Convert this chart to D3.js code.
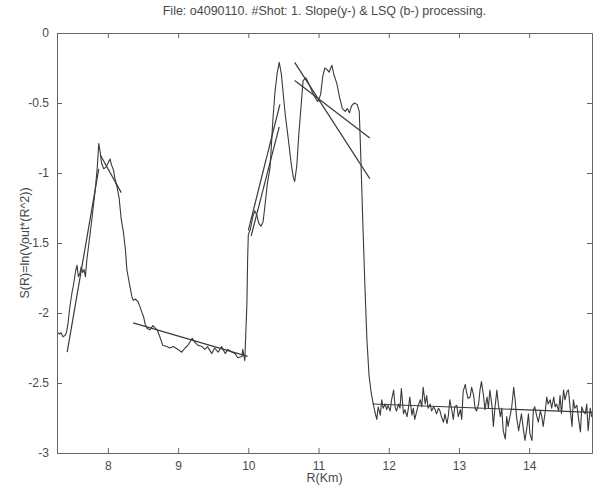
<!DOCTYPE html>
<html>
<head>
<meta charset="utf-8">
<script src="https://cdn.jsdelivr.net/npm/d3@7"></script>
<style>
  html, body { margin: 0; padding: 0; background: #ffffff; }
  svg { display: block; }
  text { font-family: "Liberation Sans", Arial, sans-serif; fill: #4a4a4a; }
</style>
</head>
<body>
<svg id="chart" width="593" height="486"></svg>
<script>
// ---------- data ----------
const titleText = "File: o4090110. #Shot: 1. Slope(y-) & LSQ (b-) processing.";
const xLabel = "R(Km)";
const yLabel = "S(R)=ln(Vout*(R^2))";
const xTicks = [8, 9, 10, 11, 12, 13, 14];
const yTicks = [0, -0.5, -1, -1.5, -2, -2.5, -3];
const yTickLabels = ["0", "-0.5", "-1", "-1.5", "-2", "-2.5", "-3"];

// signal: first aerosol layer (R in km, S)
const layer1R = [7.28,7.31,7.33,7.36,7.39,7.41,7.43,7.46,7.49,7.51,7.54,7.56,7.58,7.60,7.62,7.64,7.66,7.68,7.70,7.73,7.76,7.79,7.82,7.85,7.87,7.89,7.91,7.94,7.97,8.00,8.03,8.05,8.08,8.10,8.13,8.16,8.19,8.22,8.25,8.27,8.31,8.34,8.36,8.39,8.43,8.46,8.48,8.51,8.53,8.56,8.60];
const layer1S = [-2.14,-2.15,-2.14,-2.17,-2.16,-2.14,-2.08,-1.95,-1.85,-1.80,-1.70,-1.66,-1.74,-1.72,-1.67,-1.71,-1.69,-1.74,-1.62,-1.50,-1.38,-1.25,-1.12,-0.95,-0.79,-0.85,-0.93,-0.97,-0.96,-0.93,-0.90,-0.94,-0.98,-1.04,-1.10,-1.18,-1.33,-1.42,-1.55,-1.69,-1.80,-1.88,-1.91,-1.90,-1.92,-1.96,-1.99,-2.03,-2.08,-2.11,-2.12];

// signal: gap between layers
const gapR = [8.64,8.70,8.74,8.78,8.84,8.88,8.93,9.00,9.05,9.10,9.14,9.20,9.24,9.28,9.34,9.38,9.42,9.48,9.52,9.57,9.62,9.67,9.71,9.77,9.81,9.85,9.91,9.92,9.95,9.98,9.99];
const gapS = [-2.09,-2.12,-2.17,-2.23,-2.24,-2.25,-2.24,-2.26,-2.28,-2.25,-2.23,-2.18,-2.21,-2.23,-2.24,-2.26,-2.24,-2.29,-2.25,-2.28,-2.24,-2.29,-2.26,-2.28,-2.29,-2.32,-2.31,-2.26,-2.34,-1.93,-1.62];

// signal: second (cloud) layer
const layer2R = [10.00,10.03,10.06,10.09,10.12,10.15,10.18,10.21,10.24,10.27,10.31,10.35,10.38,10.41,10.44,10.47,10.50,10.53,10.57,10.61,10.64,10.66,10.69,10.72,10.75,10.78,10.82,10.86,10.91,10.95,10.99,11.03,11.06,11.09,11.12,11.15,11.19,11.22,11.26,11.30,11.34,11.38,11.41,11.44,11.47,11.51,11.55,11.58,11.60,11.63,11.66,11.69,11.72,11.75];
const layer2S = [-1.44,-1.40,-1.32,-1.27,-1.30,-1.36,-1.38,-1.35,-1.22,-1.08,-0.96,-0.62,-0.42,-0.29,-0.21,-0.29,-0.45,-0.60,-0.76,-0.93,-1.03,-1.06,-0.95,-0.72,-0.53,-0.34,-0.32,-0.36,-0.42,-0.46,-0.49,-0.44,-0.31,-0.25,-0.26,-0.28,-0.23,-0.30,-0.36,-0.46,-0.54,-0.56,-0.54,-0.57,-0.52,-0.50,-0.51,-0.56,-0.85,-1.34,-1.80,-2.20,-2.45,-2.57];

// signal: background noise above the cloud
const noiseR = [11.78,11.80,11.83,11.85,11.88,11.90,11.92,11.95,11.97,11.99,12.02,12.04,12.07,12.09,12.11,12.14,12.16,12.18,12.21,12.23,12.26,12.28,12.30,12.33,12.35,12.37,12.40,12.42,12.45,12.47,12.49,12.52,12.54,12.56,12.59,12.61,12.64,12.66,12.68,12.71,12.73,12.75,12.78,12.80,12.83,12.85,12.87,12.90,12.92,12.94,12.97,12.99,13.02,13.04,13.06,13.09,13.11,13.13,13.16,13.18,13.21,13.23,13.25,13.28,13.30,13.32,13.35,13.37,13.40,13.42,13.44,13.47,13.49,13.51,13.54,13.56,13.59,13.61,13.63,13.66,13.68,13.70,13.73,13.75,13.78,13.80,13.82,13.85,13.87,13.89,13.92,13.94,13.97,13.99,14.01,14.04,14.06,14.08,14.11,14.13,14.16,14.18,14.20,14.23,14.25,14.27,14.30,14.32,14.35,14.37,14.39,14.42,14.44,14.46,14.49,14.51,14.54,14.56,14.58,14.61,14.63,14.65,14.68,14.70,14.73,14.75,14.77,14.80,14.82,14.84,14.87,14.89,14.91];
const noiseS = [-2.65,-2.70,-2.76,-2.67,-2.73,-2.62,-2.68,-2.65,-2.69,-2.66,-2.70,-2.62,-2.55,-2.67,-2.70,-2.65,-2.68,-2.54,-2.72,-2.69,-2.74,-2.68,-2.60,-2.73,-2.68,-2.76,-2.70,-2.66,-2.62,-2.67,-2.53,-2.65,-2.59,-2.68,-2.65,-2.70,-2.67,-2.69,-2.72,-2.68,-2.70,-2.74,-2.78,-2.72,-2.79,-2.73,-2.62,-2.70,-2.76,-2.67,-2.66,-2.74,-2.69,-2.76,-2.56,-2.51,-2.57,-2.61,-2.60,-2.53,-2.59,-2.68,-2.70,-2.65,-2.55,-2.49,-2.59,-2.69,-2.60,-2.68,-2.55,-2.66,-2.81,-2.69,-2.55,-2.65,-2.74,-2.68,-2.84,-2.90,-2.74,-2.81,-2.73,-2.68,-2.53,-2.62,-2.74,-2.84,-2.78,-2.72,-2.84,-2.91,-2.81,-2.72,-2.86,-2.91,-2.69,-2.67,-2.74,-2.78,-2.70,-2.74,-2.81,-2.70,-2.60,-2.65,-2.62,-2.68,-2.60,-2.67,-2.65,-2.70,-2.59,-2.72,-2.55,-2.62,-2.56,-2.55,-2.66,-2.81,-2.62,-2.68,-2.66,-2.74,-2.85,-2.67,-2.70,-2.72,-2.65,-2.84,-2.68,-2.74,-2.72];

// straight-line fits (slope and LSQ), one entry per segment
const fitStartR = [7.42, 7.89, 8.36, 10.00, 10.04, 10.66, 10.66, 11.77];
const fitStartS = [-2.28, -0.87, -2.07, -1.41, -1.45, -0.21, -0.34, -2.65];
const fitEndR   = [7.87, 8.19, 9.99, 10.45, 10.44, 11.73, 11.73, 14.91];
const fitEndS   = [-0.97, -1.14, -2.31, -0.51, -0.67, -1.04, -0.75, -2.71];

// ---------- chart ----------
const svg = d3.select("#chart");
const mLeft = 57, mRight = 592, mTop = 33, mBottom = 453;

const x = d3.scaleLinear().domain([7.275, 14.895]).range([mLeft, mRight]);
const y = d3.scaleLinear().domain([-3, 0]).range([mBottom, mTop]);

const ink = "#3a3a3a";
const axisCol = "#666";

svg.append("clipPath").attr("id", "clip")
  .append("rect").attr("x", mLeft).attr("y", mTop).attr("width", mRight - mLeft).attr("height", mBottom - mTop);

const plot = svg.append("g").attr("clip-path", "url(#clip)");

const line = d3.line().x(d => x(d[0])).y(d => y(d[1]));
const signalR = layer1R.concat(gapR, layer2R, noiseR);
const signalS = layer1S.concat(gapS, layer2S, noiseS);
const signal = signalR.map((r, i) => [r, signalS[i]]);

plot.append("path")
  .datum(signal)
  .attr("d", line)
  .attr("fill", "none")
  .attr("stroke", ink)
  .attr("stroke-width", 1.1)
  .attr("stroke-linejoin", "round");

const fits = fitStartR.map((r, i) => [[r, fitStartS[i]], [fitEndR[i], fitEndS[i]]]);
plot.selectAll("path.fit").data(fits).enter().append("path")
  .attr("class", "fit")
  .attr("d", line)
  .attr("fill", "none")
  .attr("stroke", ink)
  .attr("stroke-width", 1.2);

// axes (MATLAB style box, inward ticks)
const tickLen = 5;
const gBottom = svg.append("g").attr("transform", `translate(0,${mBottom})`)
  .call(d3.axisBottom(x).tickValues(xTicks).tickSizeInner(-tickLen).tickSizeOuter(0).tickPadding(8).tickFormat(d3.format("d")));
const gTop = svg.append("g").attr("transform", `translate(0,${mTop})`)
  .call(d3.axisTop(x).tickValues(xTicks).tickSizeInner(-tickLen).tickSizeOuter(0).tickFormat(""));
const gLeft = svg.append("g").attr("transform", `translate(${mLeft},0)`)
  .call(d3.axisLeft(y).tickValues(yTicks).tickSizeInner(-tickLen).tickSizeOuter(0).tickPadding(8)
    .tickFormat((d, i) => yTickLabels[i]));
const gRight = svg.append("g").attr("transform", `translate(${mRight},0)`)
  .call(d3.axisRight(y).tickValues(yTicks).tickSizeInner(-tickLen).tickSizeOuter(0).tickFormat(""));

[gBottom, gTop, gLeft, gRight].forEach(g => {
  g.select(".domain").attr("stroke", axisCol).attr("stroke-width", 1);
  g.selectAll(".tick line").attr("stroke", axisCol);
  g.selectAll("text").attr("fill", "#4a4a4a").style("font-size", "12px")
    .style("font-family", '"Liberation Sans", Arial, sans-serif');
});

// titles
svg.append("text").attr("x", (mLeft + mRight) / 2).attr("y", 15)
  .attr("text-anchor", "middle").style("font-size", "12.5px").text(titleText);
svg.append("text").attr("x", (mLeft + mRight) / 2).attr("y", 482)
  .attr("text-anchor", "middle").style("font-size", "12.5px").text(xLabel);
svg.append("text").attr("transform", `translate(29,${(mTop + mBottom) / 2}) rotate(-90)`)
  .attr("text-anchor", "middle").style("font-size", "12.5px").text(yLabel);
</script>
</body>
</html>
